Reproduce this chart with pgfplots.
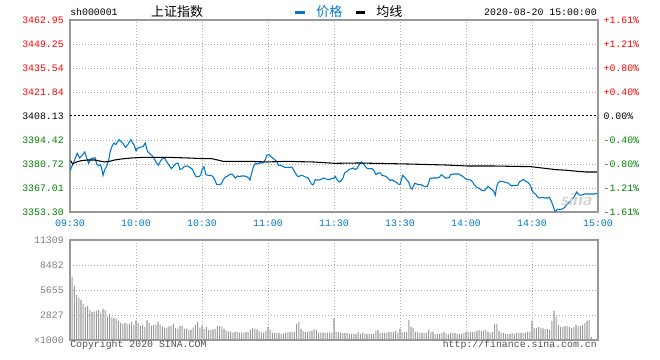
\documentclass[border=0pt]{standalone}
\usepackage{pgfplots}
\pgfplotsset{compat=1.18}
\usepackage{pgfplotstable}
\usepackage{fontspec}
\setmainfont{Liberation Mono}
\newfontfamily\cjk{Noto Sans CJK SC}
\definecolor{pblue}{RGB}{0,119,204}
\definecolor{tblue}{RGB}{0,119,204}
\definecolor{sred}{RGB}{255,0,0}
\definecolor{sgreen}{RGB}{0,128,0}
\definecolor{framec}{RGB}{153,153,153}
\definecolor{gridc}{RGB}{170,170,170}
\definecolor{volc}{RGB}{153,153,153}
\definecolor{volgray}{RGB}{128,128,128}
\definecolor{copyc}{RGB}{80,80,80}
\newcommand\lab{\fontsize{7.4pt}{9pt}\selectfont}
\newcommand\cjklab{\cjk\fontsize{9.75pt}{11pt}\selectfont}

\pgfplotstableread{
m p
0 3376.91
2 3382.62
3 3386.05
3.3 3386.81
4.4 3384.15
5.5 3385.67
6.7 3387.57
7.6 3384.15
8.5 3381.10
9.4 3383.60
10.6 3384.15
11.5 3384.15
12.1 3380.72
13 3379.77
13.9 3380.34
14.7 3376.53
15 3374.25
15.8 3377.49
16.7 3379.39
17.6 3383.20
18.3 3387.95
19.1 3390.81
20 3392.71
20.8 3391.76
21.5 3393.09
22.4 3394.61
23.3 3393.28
24.2 3392.14
25.2 3390.24
26.1 3391.38
27 3393.28
27.7 3394.61
28.5 3392.71
29.1 3391.76
30 3388.33
30.9 3389.86
32.1 3390.24
33.3 3390.81
34.2 3392.71
35.2 3387.95
36.4 3386.43
37.6 3385.10
38.5 3383.20
39.4 3381.29
40.2 3379.96
40.9 3381.86
41.8 3383.58
43 3384.15
43.9 3382.24
44.8 3380.34
46.1 3378.06
47 3379.39
47.9 3380.72
49.1 3381.29
50 3377.49
50.9 3378.06
52.1 3379.39
53.3 3379.58
54.4 3378.82
55.5 3377.87
56.4 3375.58
57.3 3373.49
58.5 3373.49
59.4 3374.25
60 3377.49
60.9 3379.20
61.8 3374.63
62.7 3374.25
63.9 3374.25
64.9 3373.68
65.8 3371.77
66.7 3368.92
67.6 3368.92
68.8 3369.30
69.7 3371.77
70.6 3373.30
71.5 3373.68
72.4 3374.63
73.6 3375.01
74.2 3374.25
75.1 3372.72
76.1 3373.87
77 3373.49
77.9 3373.87
79.4 3373.87
80.3 3373.49
81.2 3372.72
81.8 3371.58
82.6 3375.58
83.3 3378.82
84.3 3381.10
85.2 3380.72
86.1 3381.29
87 3381.29
87.9 3381.48
88.8 3383.20
89.4 3385.67
90.3 3386.05
91.2 3385.10
92.1 3384.15
93 3383.20
93.9 3382.24
94.8 3379.96
95.8 3379.96
96.7 3379.39
97.6 3378.82
100 3378.82
100.9 3379.01
101.8 3376.91
102.7 3375.01
103.6 3373.49
104.5 3373.87
105.5 3374.25
106.4 3373.68
107.3 3373.11
108.2 3372.72
109.1 3370.82
109.7 3369.30
110.6 3368.92
111.5 3371.77
112.4 3371.58
113.3 3371.58
114.2 3371.96
115.2 3372.72
116 3372.34
116.9 3371.96
117.9 3371.77
118.8 3372.34
119.7 3372.34
120.6 3373.68
121.4 3371.77
122.4 3370.44
123.3 3371.20
124.1 3372.72
124.8 3375.58
125.9 3376.53
126.7 3377.49
127.9 3378.06
128.8 3378.44
129.7 3377.49
130.6 3378.44
131.5 3380.34
132.4 3381.86
133.3 3381.10
134.2 3379.39
135.2 3378.06
137.3 3378.06
138.2 3376.91
139.1 3374.63
140 3375.58
141.1 3375.58
141.8 3374.25
143.6 3373.68
144.5 3372.72
145.5 3371.20
146.4 3371.77
147.3 3370.82
148.2 3370.44
149.1 3369.30
150 3368.92
150.6 3371.77
151.2 3374.25
152.1 3373.11
153 3371.77
153.9 3370.44
154.9 3367.01
155.5 3366.25
156.1 3367.97
156.7 3369.68
157.6 3369.30
158.5 3368.92
159.4 3368.92
160.3 3368.35
161.2 3367.97
162.4 3367.78
163 3369.87
163.6 3372.34
164.5 3372.72
166.9 3372.72
167.9 3373.11
168.8 3374.63
169.7 3373.68
170.6 3372.72
171.5 3372.72
172.4 3373.11
173 3374.63
174.2 3375.01
176.7 3375.01
177.6 3374.25
178.5 3373.68
179.4 3372.72
180.6 3371.77
182.1 3371.58
183 3370.44
183.9 3368.54
184.8 3367.40
185.8 3367.01
186.7 3366.06
187.6 3365.49
188.5 3365.49
189.1 3366.63
190 3367.97
190.9 3367.01
191.8 3366.06
192.7 3364.73
193.3 3362.83
193.9 3367.40
194.5 3369.87
195.5 3370.82
196.4 3370.82
197.3 3370.44
198.2 3370.06
199.1 3369.87
200 3368.92
200.9 3368.16
201.8 3368.54
203.6 3368.54
204.2 3370.44
205.2 3371.20
206.1 3371.96
207 3370.82
207.9 3370.44
208.8 3369.30
209.4 3367.97
210 3365.49
210.9 3364.16
211.8 3363.21
212.7 3361.68
213.6 3361.30
214.8 3361.68
215.8 3361.30
217 3361.30
217.9 3361.68
218.8 3359.40
219.4 3357.50
220 3355.21
220.6 3353.30
221.5 3354.83
223 3354.83
224.2 3355.21
225.2 3356.54
226.1 3357.88
227 3359.02
227.9 3360.35
228.8 3361.30
229.7 3363.21
230.3 3364.73
231.2 3363.21
232.1 3362.83
233 3363.21
233.9 3363.59
238.5 3363.59
239.4 3363.97
240 3363.97
}\pricedata

\pgfplotstableread{
m a
0.3 3382.62
1.2 3380.72
2.9 3381.86
5.2 3382.62
8.2 3383.00
11.2 3383.00
14.2 3382.24
15.8 3381.86
18 3382.24
20.3 3383.00
23.3 3383.57
27.9 3384.15
33.9 3384.53
44.5 3384.53
53.6 3384.15
60.9 3383.77
64.4 3383.77
69.7 3382.24
81.8 3382.24
89.4 3381.86
97.7 3382.24
110.6 3381.86
120.6 3381.10
130.9 3381.29
153.2 3380.72
170.6 3380.15
180.6 3379.58
191.8 3379.58
209.4 3379.20
217 3378.06
220.8 3377.49
226.1 3377.11
230.6 3376.53
234.4 3376.15
240 3376.15
}\avgdata

\pgfplotstableread{
m v
0 11309
1 7125
2 6107
3 5090
4 4788
5 4524
6 4072
7 3732
8 3845
9 3393
10 3167
11 3204
12 3280
13 3393
14 3091
15 3506
16 3393
17 2639
18 2941
19 2526
20 2488
21 2375
22 2149
23 1923
24 1847
25 1923
26 1810
27 1810
28 2036
29 1697
30 2224
31 1923
32 1621
33 1697
34 1470
35 2224
36 1923
37 1621
38 1697
39 1697
40 2036
41 1734
42 1508
43 1395
44 1395
45 1546
46 1583
47 1810
48 1357
49 1282
50 1583
51 1583
52 1244
53 1244
54 1131
55 1169
56 1395
57 1697
58 2036
59 1395
60 1621
61 1244
62 1470
63 1131
64 1131
65 1169
66 1244
67 1583
68 1583
69 1508
70 1282
71 1056
72 943
73 943
74 829
75 905
76 905
77 829
78 829
79 829
80 905
81 905
82 1131
83 1357
84 1282
85 1206
86 1018
87 829
88 829
89 1018
90 1470
91 1131
92 829
93 792
94 792
95 792
96 679
97 754
98 792
99 867
100 905
101 905
102 905
103 1810
104 2036
105 1244
106 1018
107 905
108 905
109 1018
110 1018
111 1244
112 1131
113 829
114 829
115 829
116 829
117 829
118 829
119 829
120 2451
121 905
122 905
123 792
124 792
125 792
126 792
127 679
128 679
129 679
130 679
131 905
132 679
133 792
134 679
135 679
136 679
137 679
138 679
139 1018
140 1131
141 792
142 792
143 792
144 792
145 905
146 905
147 905
148 1018
149 792
150 1244
151 905
152 905
153 905
154 2262
155 1470
156 1357
157 905
158 905
159 792
160 792
161 792
162 792
163 1131
164 905
165 905
166 679
167 679
168 679
169 792
170 905
171 679
172 679
173 792
174 792
175 792
176 679
177 679
178 679
179 792
180 905
181 905
182 905
183 905
184 905
185 1018
186 1131
187 1018
188 1018
189 1131
190 905
191 792
192 905
193 1810
194 1810
195 1018
196 792
197 792
198 679
199 679
200 679
201 792
202 679
203 792
204 792
205 792
206 792
207 792
208 905
209 905
210 2149
211 1357
212 1357
213 1470
214 1395
215 1320
216 1244
217 1244
218 1131
219 2149
220 3280
221 2601
222 1697
223 1470
224 1470
225 1583
226 1583
227 1470
228 1357
229 1470
230 1697
231 1583
232 1583
233 1697
234 1923
235 2149
236 2262
237 339
}\voldata

\pgfplotsset{sinabase/.style={
  scale only axis, width=396pt,
  xmin=0, xmax=240, xtick={0,30,...,240},
  axis line style={framec, line width=1pt},
  major tick length=0pt,
  grid=major,
  major grid style={gridc, line width=0.6pt, dash pattern=on 0.75pt off 1.5pt},
  ticklabel style={font=\lab},
}}

\begin{document}
\begin{tikzpicture}
\path (0,0) rectangle (495pt,270pt);

% main price axis
\begin{axis}[sinabase,
  at={(52.5pt,111pt)}, anchor=south west, height=144pt,
  ymin=3353.30, ymax=3462.95,
  ytick={3353.30,3367.01,3380.72,3394.42,3421.84,3435.54,3449.25,3462.95},
  yticklabels={\textcolor{sgreen}{3353.30},\textcolor{sgreen}{3367.01},\textcolor{sgreen}{3380.72},\textcolor{sgreen}{3394.42},\textcolor{sred}{3421.84},\textcolor{sred}{3435.54},\textcolor{sred}{3449.25},\textcolor{sred}{3462.95}},
  extra y ticks={3408.13},
  extra y tick labels={3408.13},
  extra y tick style={grid=major, major grid style={black, line width=0.75pt, dash pattern=on 1.5pt off 1.5pt}},
  yticklabel style={inner sep=0pt, xshift=-4.5pt, anchor=east},
  xticklabels={09:30,10:00,10:30,11:00,11:30,13:30,14:00,14:30,15:00},
  xticklabel style={text=tblue, inner sep=0pt, yshift=-6pt, anchor=north},
]
\addplot[pblue, line width=0.8pt] table[x=m, y=p] {\pricedata};
\addplot[black, line width=0.8pt] table[x=m, y=a] {\avgdata};
\end{axis}

% right percent axis
\begin{axis}[scale only axis, width=396pt, height=144pt,
  at={(52.5pt,111pt)}, anchor=south west,
  xmin=0, xmax=240, ymin=3353.30, ymax=3462.95,
  axis y line*=right, axis x line=none,
  axis line style={framec, line width=1pt},
  major tick length=0pt,
  ytick={3353.30,3367.01,3380.72,3394.42,3408.13,3421.84,3435.54,3449.25,3462.95},
  yticklabels={\textcolor{sgreen}{-1.61\%},\textcolor{sgreen}{-1.21\%},\textcolor{sgreen}{-0.80\%},\textcolor{sgreen}{-0.40\%},0.00\%,\textcolor{sred}{+0.40\%},\textcolor{sred}{+0.80\%},\textcolor{sred}{+1.21\%},\textcolor{sred}{+1.61\%}},
  yticklabel style={font=\lab, inner sep=0pt, xshift=4pt, anchor=west},
]
\addplot[draw=none] coordinates {(0,3400)};
\end{axis}

% volume axis
\begin{axis}[sinabase,
  at={(52.5pt,15pt)}, anchor=south west, height=75pt,
  ymin=0, ymax=11309,
  ytick={0,2827,5655,8482,11309},
  yticklabels={×1000,2827,5655,8482,11309},
  yticklabel style={text=volgray, inner sep=0pt, xshift=-4.5pt, anchor=east},
  xticklabels={},
  scaled y ticks=false,
]
\addplot[ybar, bar width=0.8pt, fill=volc, draw=none] table[x=m, y=v] {\voldata};
\end{axis}

% header
\node[anchor=west, font=\lab, inner sep=0pt] at (52.5pt,261pt) {sh000001};
\node[font=\cjklab, inner sep=0pt] at (132.75pt,261pt) {上证指数};
\fill[pblue] (221.25pt,259.5pt) rectangle (228.75pt,261.75pt);
\node[anchor=west, font=\cjklab, text=pblue, inner sep=0pt] at (237pt,261pt) {价格};
\fill[black] (267pt,259.5pt) rectangle (273.75pt,261.75pt);
\node[anchor=west, font=\cjklab, inner sep=0pt] at (282pt,261pt) {均线};
\node[anchor=east, font=\lab, inner sep=0pt] at (447.75pt,261pt) {2020-08-20 15:00:00};

% watermark
\node[text=gray!35, font=\sffamily\bfseries\itshape\fontsize{13pt}{13pt}\selectfont, inner sep=0pt] at (432pt,120pt) {sina};

% footer
\node[anchor=west, font=\lab, text=copyc, inner sep=0pt] at (52.5pt,11pt) {Copyright 2020 SINA.COM};
\node[anchor=east, font=\lab, text=copyc, inner sep=0pt] at (447.75pt,11pt) {http://finance.sina.com.cn};
\end{tikzpicture}
\end{document}
